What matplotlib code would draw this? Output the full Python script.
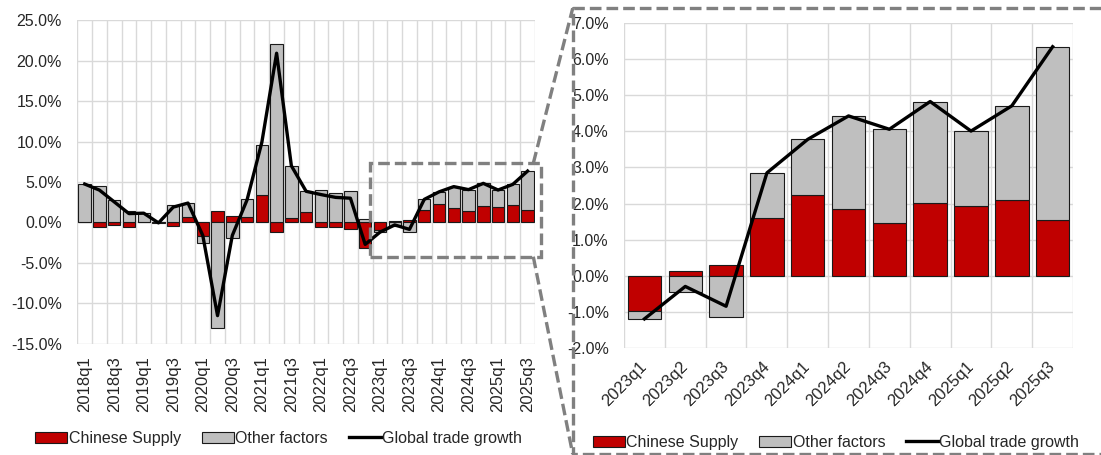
import numpy as np
import matplotlib
matplotlib.use("Agg")
import matplotlib.pyplot as plt
from matplotlib.lines import Line2D
from matplotlib.patches import Patch, Rectangle
from matplotlib.ticker import FuncFormatter

plt.rcParams['font.family'] = ['Liberation Sans', 'DejaVu Sans']

# quarters 2018q1 .. 2025q3
quarters = [f"{y}q{q}" for y in range(2018, 2026) for q in range(1, 5)][:31]

# contributions, percentage points
chinese_supply = [0.0, -0.6, -0.3, -0.6, 0.0, -0.03, -0.45, 0.65,
                  -1.65, 1.4, 0.75, 0.7, 3.35, -1.2, 0.58, 1.29,
                  -0.54, -0.54, -0.79, -3.13, -0.98, 0.14, 0.30, 1.59,
                  2.25, 1.85, 1.45, 2.02, 1.94, 2.11, 1.55]
other_factors = [4.75, 4.5, 2.83, 1.42, 1.15, 0.03, 2.2, 1.8,
                 -0.93, -13.0, -1.87, 2.26, 6.25, 22.0, 6.37, 2.59,
                 4.04, 3.63, 3.92, 0.42, -0.22, -0.46, -1.16, 1.26,
                 1.53, 2.58, 2.61, 2.81, 2.07, 2.6, 4.8]
# global trade growth, %
trade_growth = [4.75, 4.0, 2.55, 1.1, 1.15, -0.05, 1.9, 2.4,
                -1.6, -11.5, -1.6, 2.8, 9.9, 20.9, 7.0, 3.85,
                3.45, 3.1, 3.0, -2.7, -1.2, -0.3, -0.85, 2.85,
                3.78, 4.43, 4.06, 4.83, 4.01, 4.71, 6.35]

zoom_start = quarters.index("2023q1")

RED = "#C00000"
GREY = "#BFBFBF"
GRID = "#D9D9D9"
TXT = "#262626"
DASH = "#808080"

pct = FuncFormatter(lambda v, p: f"{v:.1f}%")


def draw(ax, labels, red, grey, line, width):
    red = np.array(red)
    grey = np.array(grey)
    x = np.arange(len(labels))
    # excel-style stacking: same sign stacks on top of red
    bottom = np.where(np.sign(grey) == np.sign(red), red, 0.0)
    ax.bar(x, red, width, color=RED, edgecolor="#1a1a1a", linewidth=0.8, zorder=3)
    ax.bar(x, grey, width, bottom=bottom, color=GREY, edgecolor="#1a1a1a",
           linewidth=0.8, zorder=3)
    ax.plot(x, line, color="black", lw=2.4, zorder=4, solid_joinstyle="round")
    ax.set_xlim(-0.5, len(labels) - 0.5)
    ax.set_xticks(np.arange(-0.5, len(labels)), minor=True)
    ax.grid(axis="x", which="minor", color=GRID, lw=1.0, zorder=0)
    ax.grid(axis="y", which="major", color=GRID, lw=1.0, zorder=0)
    ax.yaxis.set_major_formatter(pct)
    for s in ax.spines.values():
        s.set_visible(False)
    ax.tick_params(which="both", length=0, labelsize=11.5, colors=TXT)
    ax.tick_params(axis="y", pad=11)


def legend(ax, xc):
    handles = [Patch(facecolor=RED, edgecolor="#1a1a1a", lw=0.8),
               Patch(facecolor=GREY, edgecolor="#1a1a1a", lw=0.8),
               Line2D([], [], color="black", lw=2.4)]
    ax.legend(handles, ["Chinese Supply", "Other factors", "Global trade growth"],
              loc="center", bbox_to_anchor=(xc, -0.292), ncol=3, frameon=False,
              fontsize=11.5, handlelength=2.0, handleheight=0.7,
              handletextpad=0.1, columnspacing=1.3, labelcolor=TXT)


fig = plt.figure(figsize=(11.01, 4.55), dpi=100)

# left: full history
ax1 = fig.add_axes([0.0702, 0.244, 0.4157, 0.712])
draw(ax1, quarters, chinese_supply, other_factors, trade_growth, 0.84)
ax1.set_ylim(-15, 25)
ax1.set_yticks(np.arange(-15, 26, 5))
ax1.set_xticks(np.arange(0, len(quarters), 2))
ax1.set_xticklabels(quarters[::2], rotation=90, fontsize=12)
ax1.tick_params(axis="x", pad=9)
legend(ax1, 0.44)
ax1.add_patch(Rectangle((zoom_start - 0.7, -4.25), len(quarters) - zoom_start + 0.6, 11.55,
                        fill=False, ec=DASH, lw=2.4, ls=(0, (3.5, 1.5)),
                        clip_on=False, zorder=5))

# right: zoom since 2023
ax2 = fig.add_axes([0.5668, 0.2358, 0.4078, 0.713])
draw(ax2, quarters[zoom_start:], chinese_supply[zoom_start:],
     other_factors[zoom_start:], trade_growth[zoom_start:], 0.82)
ax2.set_ylim(-2, 7)
ax2.set_yticks(np.arange(-2, 7.1, 1))
ax2.set_xticks(np.arange(len(quarters) - zoom_start))
ax2.set_xticklabels(quarters[zoom_start:], rotation=45, ha="right",
                    va="center", rotation_mode="anchor", fontsize=12)
ax2.tick_params(axis="x", pad=12)
legend(ax2, 0.472)

# dashed zoom frame and connectors (figure pixels)
W, H = 1101, 455


def fline(xs, ys):
    fig.add_artist(Line2D([v / W for v in xs], [1 - v / H for v in ys],
                          transform=fig.transFigure, color=DASH, lw=2.4,
                          ls=(0, (3.5, 1.5))))


fline([1101, 572.7, 572.7, 1101], [8.3, 8.3, 454, 454])
fline([533.3, 572.7], [163.3, 8.3])
fline([533.3, 572.7], [256.7, 454])

fig.savefig("out.png", dpi=100)
